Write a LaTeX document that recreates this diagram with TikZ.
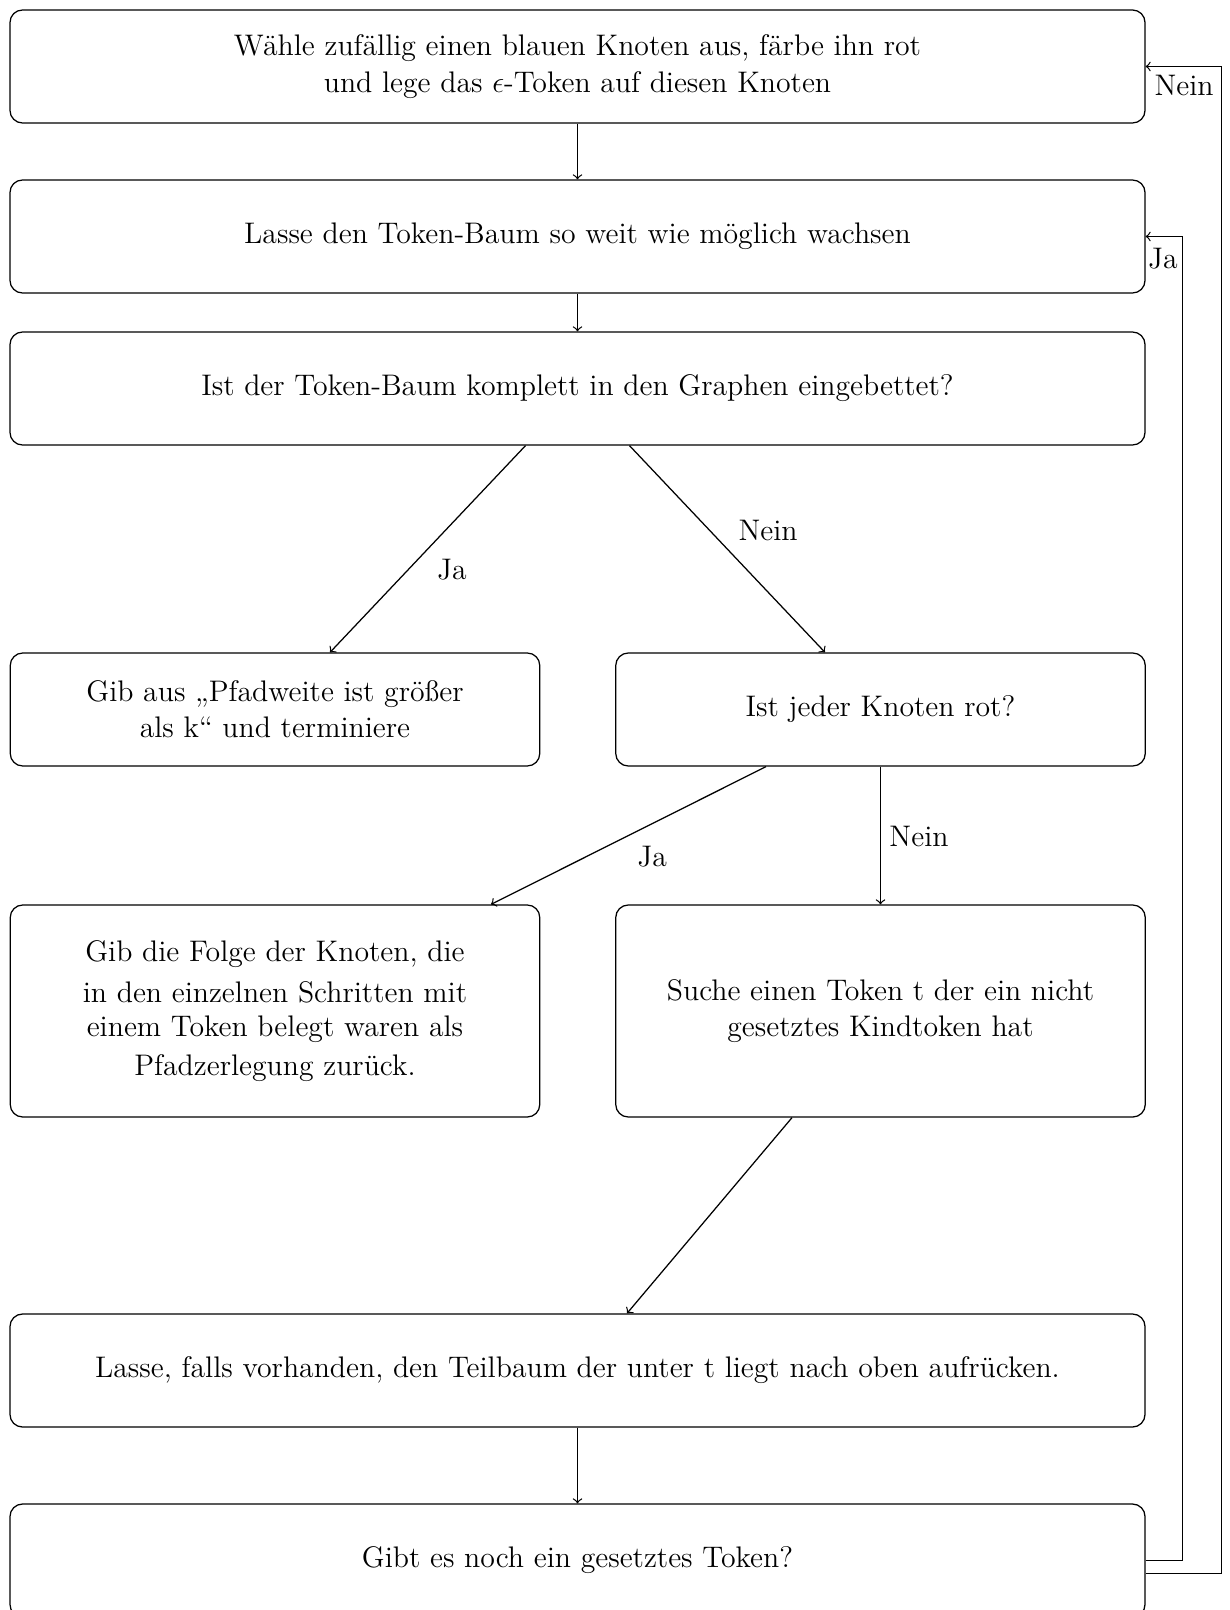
\documentclass[tikz,border=0pt]{standalone}
\usetikzlibrary{calc}
\begin{document}
\begin{tikzpicture}[x=0.4pt,y=-0.4pt,
  box/.style={draw, line width=0.5pt, rounded corners=5pt, align=center, inner sep=0pt, font=\fontsize{11.9}{14.5}\selectfont},
  wide/.style={box, minimum width=454pt, minimum height=45.2pt},
  half/.style={box, minimum width=211.8pt, minimum height=45.2pt},
  tall/.style={box, minimum width=211.8pt, minimum height=84.8pt},
  flow/.style={draw, ->, line width=0.5pt},
  lbl/.style={font=\fontsize{11.9}{14.5}\selectfont}]
\useasboundingbox (0,0) rectangle (1230,1610);
\node[wide] (b1) at (577.5,66.5) {Wähle zufällig einen blauen Knoten aus, färbe ihn rot\\und lege das $\epsilon$-Token auf diesen Knoten};
\node[wide] (b2) at (577.5,236.5) {Lasse den Token-Baum so weit wie möglich wachsen};
\node[wide] (b3) at (577.5,388.5) {Ist der Token-Baum komplett in den Graphen eingebettet?};
\node[half] (b4) at (275,709.5) {Gib aus „Pfadweite ist größer\\als k“ und terminiere};
\node[half] (b5) at (880.5,709.5) {Ist jeder Knoten rot?};
\node[tall] (b6l) at (275,1011) {Gib die Folge der Knoten, die\\[2pt]in den einzelnen Schritten mit\\[-0.8pt]einem Token belegt waren als\\[1.2pt]Pfadzerlegung zurück.};
\node[tall] (b6r) at (880.5,1011) {Suche einen Token t der ein nicht\\gesetztes Kindtoken hat};
\node[wide] (b7) at (577.5,1370.5) {Lasse, falls vorhanden, den Teilbaum der unter t liegt nach oben aufrücken.};
\node[wide] (b8) at (577.5,1560.5) {Gibt es noch ein gesetztes Token?};

\draw[flow] (b1) -- (b2);
\draw[flow] (b2) -- (b3);
\draw[flow] ($(b3.south)+(-52,0)$) -- node[lbl, pos=0.6, anchor=west, xshift=8pt] {Ja} ($(b4.north)+(55,0)$);
\draw[flow] ($(b3.south)+(52,0)$) -- node[lbl, pos=0.41, anchor=west, xshift=8pt] {Nein} ($(b5.north)+(-55.5,0)$);
\draw[flow] ($(b5.south)+(-114.5,0)$) -- node[lbl, pos=0.655, anchor=west, xshift=17pt] {Ja} ($(b6l.north)+(216,0)$);
\draw[flow] (b5.south) -- node[lbl, pos=0.51, anchor=west] {Nein} (b6r.north);
\draw[flow] ($(b6r.south)+(-88.5,0)$) -- ($(b7.north)+(49.5,0)$);
\draw[flow] (b7) -- (b8);
\coordinate (jr) at ($(b8.east)+(37,0)$);
\coordinate (nr) at ($(b8.east)+(76,13)$);
\draw[flow] (b8.east) -- (jr) |- node[lbl, pos=1, anchor=north west, xshift=-2.6pt, yshift=-1pt] {Ja} (b2.east);
\draw[flow] ($(b8.east)+(0,13)$) -- (nr) |- node[lbl, pos=1, anchor=north west] {Nein} (b1.east);
\end{tikzpicture}
\end{document}
